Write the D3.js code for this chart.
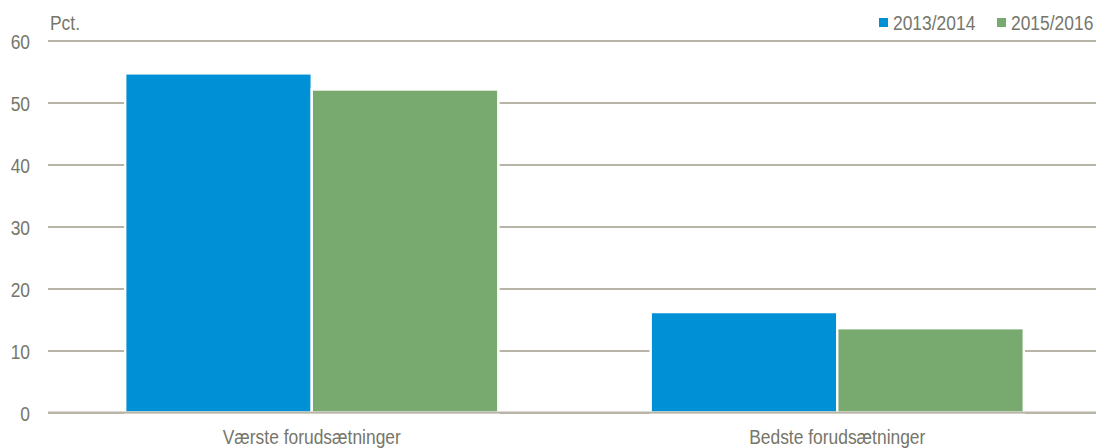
<!DOCTYPE html>
<html><head><meta charset="utf-8">
<script src="https://cdn.jsdelivr.net/npm/d3@7"></script>
<style>
html,body{margin:0;padding:0;background:#fff;}
text{font-family:"Liberation Sans","Arial",sans-serif;fill:#76766a;}
</style></head>
<body><svg id="c" width="1096" height="448"></svg>
<script>
const categories = ["Værste forudsætninger", "Bedste forudsætninger"];
const seriesNames = ["2013/2014", "2015/2016"];
const values2013 = [54.7, 16.2];
const values2015 = [52.1, 13.6];
const yTicks = [0, 10, 20, 30, 40, 50, 60];
const unitLabel = "Pct.";
const colors = ["#0090d5", "#78aa70"];

(function () {
const svg = d3.select("#c");
const pLeft = 48, pRight = 1096, pTop = 40.5, pBottom = 412.5;
const narrow = 0.83;
// horizontally condense text (no narrow font installed)
function condense(sel) {
  sel.each(function () {
    const t = d3.select(this);
    const x = +t.attr("x") || 0;
    t.attr("x", x / narrow).attr("transform", `scale(${narrow},1)`);
  });
}
const y = d3.scaleLinear().domain([0, 60]).range([pBottom, pTop]);
const x0 = d3.scaleBand().domain(categories).range([pLeft + 1, pLeft + 1 + 1051]).paddingInner(0.29).paddingOuter(0.145);
const x1 = d3.scaleBand().domain(seriesNames).range([0, x0.bandwidth()]);
const series = [values2013, values2015];

// gridlines
const yAxis = d3.axisLeft(y).tickValues(yTicks).tickSize(-(pRight - pLeft)).tickPadding(18);
const g = svg.append("g").attr("transform", `translate(${pLeft},0)`).call(yAxis);
g.select(".domain").remove();
g.selectAll(".tick line").attr("stroke", "#b8b5a8").attr("stroke-width", 2);
g.selectAll(".tick text").attr("font-size", 21).attr("fill", "#76766a").attr("dy", "0.36em")
  .style("font-family", '"Liberation Sans",Arial,sans-serif').call(condense);

// bars
categories.forEach((c, ci) => {
  seriesNames.forEach((s, si) => {
    const v = series[si][ci];
    svg.append("rect")
      .attr("x", x0(c) + x1(s))
      .attr("y", y(v))
      .attr("width", x1.bandwidth())
      .attr("height", y(0) - y(v))
      .attr("fill", colors[si])
      .attr("stroke", "#fff")
      .attr("stroke-width", 2.4);
  });
});

// baseline redraw
svg.append("line").attr("x1", pLeft).attr("x2", pRight).attr("y1", y(0)).attr("y2", y(0))
  .attr("stroke", "#b8b5a8").attr("stroke-width", 2);

// category labels
const xAxis = d3.axisBottom(x0).tickSize(0).tickPadding(16.5);
const xg = svg.append("g").attr("transform", `translate(0,${pBottom})`).call(xAxis);
xg.select(".domain").remove();
xg.selectAll(".tick text").attr("font-size", 21).attr("fill", "#76766a")
  .style("font-family", '"Liberation Sans",Arial,sans-serif').call(condense);

// unit label
svg.append("text").attr("x", 50).attr("y", 30).attr("font-size", 21).text(unitLabel).call(condense);

// legend
const legendX = [879, 997];
seriesNames.forEach((s, i) => {
  svg.append("rect").attr("x", legendX[i]).attr("y", 18).attr("width", 9).attr("height", 9).attr("fill", colors[i]);
  svg.append("text").attr("x", legendX[i] + 14).attr("y", 30).attr("font-size", 21).text(s).call(condense);
});
})();
</script></body></html>
